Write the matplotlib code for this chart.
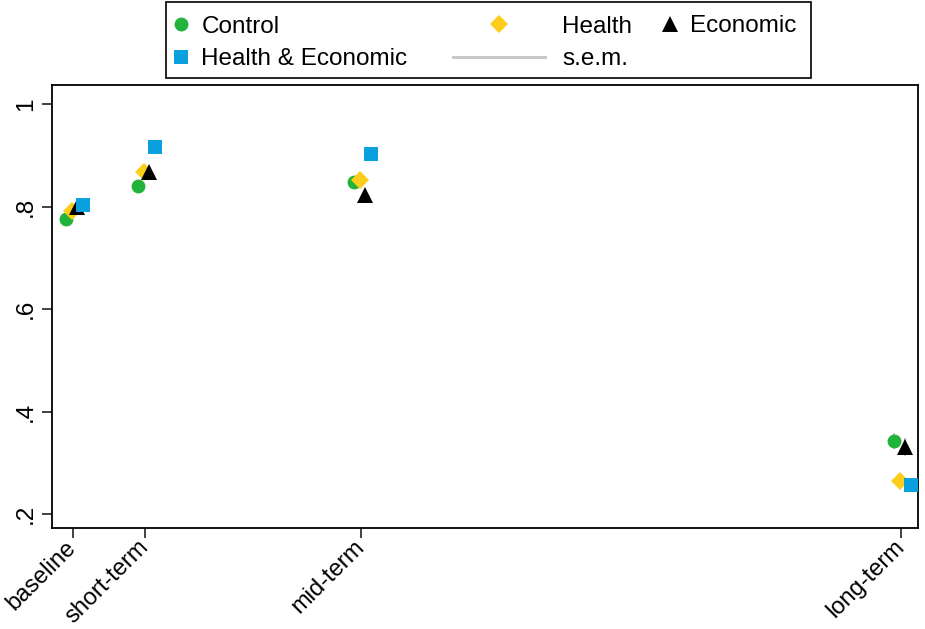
import matplotlib
matplotlib.use("Agg")
import matplotlib.pyplot as plt
from matplotlib.lines import Line2D
from matplotlib.patches import Rectangle

# survey waves and where they sit on the time axis
waves = ["baseline", "short-term", "mid-term", "long-term"]
wave_pos = [0, 1, 4, 11.5]

# share by treatment arm at each wave
control = [0.776, 0.840, 0.848, 0.343]
health = [0.791, 0.868, 0.852, 0.265]
economic = [0.799, 0.867, 0.823, 0.331]
health_econ = [0.803, 0.917, 0.902, 0.257]

# standard errors of the mean
control_sem = [0.008, 0.009, 0.010, 0.015]
health_sem = [0.008, 0.009, 0.010, 0.014]
economic_sem = [0.008, 0.009, 0.012, 0.017]
health_econ_sem = [0.008, 0.008, 0.010, 0.014]

plt.rcParams["font.family"] = ["Liberation Sans", "DejaVu Sans"]
fs = 17.5

arms = [
    ("Control", control, control_sem, "o", 10, "#22b33b", -0.09),
    ("Health", health, health_sem, "D", 9.5, "#fdcd1b", -0.01),
    ("Economic", economic, economic_sem, "^", 11.5, "black", 0.06),
    ("Health & Economic", health_econ, health_econ_sem, "s", 9.5, "#0aa0de", 0.14),
]

fig = plt.figure(figsize=(9.25, 6.29), dpi=100)
ax = fig.add_axes([52/925, 1-528/629, (918-52)/925, (528-85)/629])

handles = {}
for name, vals, sem, mk, ms, col, off in arms:
    xs = [p + off for p in wave_pos]
    ax.errorbar(xs, vals, yerr=sem, fmt="none", ecolor="#c4c4c4", elinewidth=1.5,
                capsize=0, zorder=2)
    h, = ax.plot(xs, vals, linestyle="none", marker=mk, markersize=ms, color=col,
                 markeredgewidth=0, zorder=3)
    handles[name] = h

ax.set_xlim(-0.29, 11.74)
ax.set_ylim(0.173, 1.037)
ax.set_xticks(wave_pos)
ax.set_xticklabels(waves, rotation=45, ha="right", va="center",
                   rotation_mode="anchor", fontsize=17)
ax.set_yticks([0.2, 0.4, 0.6, 0.8, 1.0])
ax.set_yticklabels([".2", ".4", ".6", ".8", "1"], rotation=90, va="center", fontsize=fs)
ax.tick_params(length=7.5, width=1.3, color="#333333")
ax.tick_params(axis="x", pad=4)
for s in ax.spines.values():
    s.set_linewidth(1.3)

# legend split in three columns with different handle widths, one shared frame
sem_line = Line2D([], [], color="#c4c4c4", linewidth=2)
kw = dict(frameon=False, fontsize=fs, borderpad=0, borderaxespad=0,
          labelspacing=0.45, loc="center left")
leg1 = fig.legend([handles["Control"], handles["Health & Economic"]],
                  ["Control", "Health & Economic"], handlelength=0.8,
                  handletextpad=0.45, bbox_to_anchor=(171/925, 1-43/629), **kw)
leg2 = fig.legend([handles["Health"], sem_line], ["Health", "s.e.m."],
                  handlelength=3.8, handletextpad=0.7,
                  bbox_to_anchor=(453/925, 1-43/629), **kw)
leg3 = fig.legend([handles["Economic"]], ["Economic"], handlelength=0.8,
                  handletextpad=0.45, bbox_to_anchor=(660/925, 1-26/629), **kw)
fig.add_artist(Rectangle((166/925, 1-78/629), (811-166)/925, 76/629,
                         transform=fig.transFigure, fill=False, edgecolor="black",
                         linewidth=1.2))

plt.savefig("out.png", dpi=100)
